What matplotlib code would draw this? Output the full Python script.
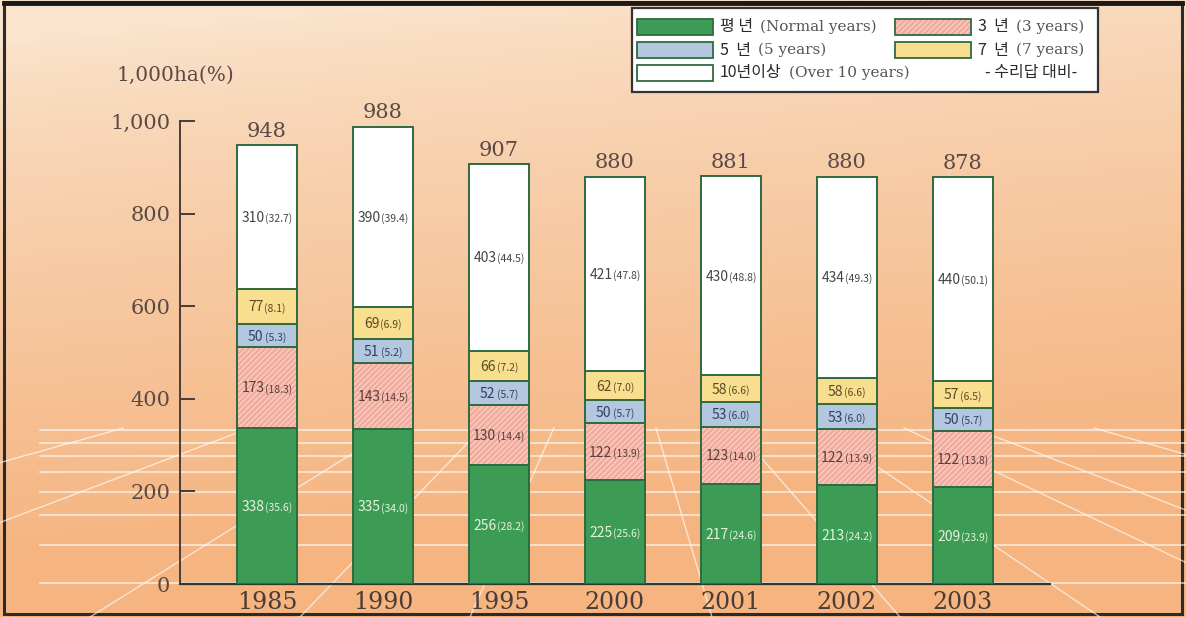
import matplotlib
matplotlib.use('Agg')
import matplotlib.pyplot as plt
import numpy as np
from matplotlib.patches import Rectangle
from matplotlib.transforms import offset_copy

# ---------------- data ----------------
years = ['1985', '1990', '1995', '2000', '2001', '2002', '2003']
totals = [948, 988, 907, 880, 881, 880, 878]
normal = [338, 335, 256, 225, 217, 213, 209]
normal_pct = [35.6, 34.0, 28.2, 25.6, 24.6, 24.2, 23.9]
yr3 = [173, 143, 130, 122, 123, 122, 122]
yr3_pct = [18.3, 14.5, 14.4, 13.9, 14.0, 13.9, 13.8]
yr5 = [50, 51, 52, 50, 53, 53, 50]
yr5_pct = [5.3, 5.2, 5.7, 5.7, 6.0, 6.0, 5.7]
yr7 = [77, 69, 66, 62, 58, 58, 57]
yr7_pct = [8.1, 6.9, 7.2, 7.0, 6.6, 6.6, 6.5]
yr10 = [310, 390, 403, 421, 430, 434, 440]
yr10_pct = [32.7, 39.4, 44.5, 47.8, 48.8, 49.3, 50.1]
yticks = [0, 200, 400, 600, 800, 1000]
ytick_labels = ['0', '200', '400', '600', '800', '1,000']
unit_label = '1,000ha(%)'
legend_ko = ['평 년', '3  년', '5  년', '7  년', '10년이상']
legend_en = ['(Normal years)', '(3 years)', '(5 years)', '(7 years)', '(Over 10 years)']
legend_note = '- 수리답 대비-'

# ---------------- style ----------------
W, H = 1186, 617
C_GREEN = '#3c9c55'
C_PINK = '#f1aa9c'
C_PINK_HATCH = '#f9cfc4'
C_BLUE = '#b3c8df'
C_YELLOW = '#f8df8f'
C_WHITE = '#ffffff'
C_EDGE = '#2f6a40'
C_TEXT = '#5a4945'
SERIF = 'DejaVu Serif'
SANS = ['Noto Sans CJK KR', 'DejaVu Sans']
plt.rcParams['hatch.linewidth'] = 1.0

fig = plt.figure(figsize=(W / 100, H / 100), dpi=100)

# background gradient + decorative perspective grid
bg = fig.add_axes([0, 0, 1, 1], zorder=0)
yy, xx = np.mgrid[0:H, 0:W]
t = np.clip(1.15 * (yy / H) + 0.2 * (xx / W) - 0.08, 0, 1) ** 0.75
top = np.array([250, 228, 205]) / 255
bot = np.array([245, 180, 128]) / 255
img = top[None, None, :] * (1 - t[..., None]) + bot[None, None, :] * t[..., None]
bg.imshow(img, extent=[0, W, H, 0], aspect='auto')
bg.set_xlim(0, W)
bg.set_ylim(H, 0)
bg.axis('off')
for gy in [430, 443, 456, 472, 492, 515, 545, 583]:
    bg.plot([40, W], [gy, gy], color='white', lw=1.1, alpha=0.75)
vpx, vpy = 615, 290
for bx in [-1300, -900, -550, -250, 90, 300, 470, 712, 900, 1100, 1300, 1463, 1750, 2200]:
    s = (bx - vpx) / (H - vpy)
    y0 = 428
    bg.plot([vpx + s * (y0 - vpy), bx], [y0, H], color='white', lw=1.0, alpha=0.65)
bg.add_patch(Rectangle((4, 2), W - 8, H - 5, fill=False, ec='#2b2b2b', lw=2.2))
bg.plot([4, W - 4], [2.5, 2.5], color='#1a1a1a', lw=3.5)

# main axes (pixel geometry of reference)
ax_l, ax_r, ax_b, ax_t = 180, 1050, 584, 121
ax = fig.add_axes([ax_l / W, 1 - ax_b / H, (ax_r - ax_l) / W, (ax_b - ax_t) / H], zorder=2)
ax.patch.set_alpha(0)
x = np.arange(len(years))
ax.set_xlim(-0.75, 6.75)
ax.set_ylim(0, 1000)
bw = 0.52

series = [
    (normal, normal_pct, C_GREEN, '#e4f3dc'),
    (yr3, yr3_pct, C_PINK, '#5a3f3c'),
    (yr5, yr5_pct, C_BLUE, '#2f3f66'),
    (yr7, yr7_pct, C_YELLOW, '#5a4a22'),
    (yr10, yr10_pct, C_WHITE, '#454545'),
]
bottom = np.zeros(len(years))
label_pairs = []
for vals, pcts, col, tcol in series:
    vals = np.array(vals, dtype=float)
    if col == C_PINK:
        ax.bar(x, vals, bw, bottom=bottom, color=col, edgecolor=C_PINK_HATCH,
               hatch='//////', linewidth=0, zorder=2)
        ax.bar(x, vals, bw, bottom=bottom, fill=False, edgecolor=C_EDGE,
               linewidth=1.4, zorder=3)
    else:
        ax.bar(x, vals, bw, bottom=bottom, color=col, edgecolor=C_EDGE,
               linewidth=1.4, zorder=3)
    for xi, b, v, p in zip(x, bottom, vals, pcts):
        t1 = ax.text(xi, b + v / 2, f'{int(v)}', fontsize=10, family=SANS,
                     color=tcol, ha='left', va='baseline', zorder=5)
        t2 = ax.text(xi, b + v / 2, f'({p:.1f})', fontsize=7.5, family=SANS,
                     color=tcol, ha='left', va='baseline', zorder=5)
        label_pairs.append((t1, t2, xi, b + v / 2))
    bottom = bottom + vals

for xi, tot in zip(x, totals):
    ax.annotate(f'{tot}', (xi, tot), xytext=(0, 3), textcoords='offset points',
                ha='center', va='bottom', fontsize=15, family=SERIF, color=C_TEXT,
                annotation_clip=False)

# axes styling
for sp in ['top', 'right']:
    ax.spines[sp].set_visible(False)
ax.spines['left'].set_color('#4a3c38')
ax.spines['left'].set_linewidth(1.4)
ax.spines['bottom'].set_color('#2b3a30')
ax.spines['bottom'].set_linewidth(1.6)
ax.set_yticks(yticks)
ax.set_yticklabels(ytick_labels, family=SERIF, fontsize=15, color=C_TEXT)
ax.tick_params(axis='y', direction='in', length=11, width=1.4, color='#4a3c38', pad=7)
ax.set_xticks(x)
ax.set_xticklabels(years, family=SERIF, fontsize=17, color='#4a3c38')
ax.tick_params(axis='x', length=0, pad=5)
fig.text(175 / W, 1 - 75 / H, unit_label, family=SERIF, fontsize=14.5,
         color=C_TEXT, ha='center', va='center')

# ---------------- legend (manual) ----------------
def fx(px):
    return px / W

def fy(py):
    return 1 - py / H

fig.patches.append(Rectangle((fx(632), fy(92)), fx(1098) - fx(632), (92 - 8) / H,
                             transform=fig.transFigure, fc='white', ec='#333333',
                             lw=1.6, zorder=10))
leg_items = [
    (0, 0, C_GREEN, None), (1, 0, C_PINK, '//////'),
    (0, 1, C_BLUE, None), (1, 1, C_YELLOW, None),
    (0, 2, C_WHITE, None),
]
col_x = [637, 895]
text_x = [720, 978]
row_y = [27, 50, 73]
leg_texts = []
for idx, (ci, ri, colr, hatch) in enumerate(leg_items):
    px0 = col_x[ci]
    py = row_y[ri]
    if hatch:
        fig.patches.append(Rectangle((fx(px0), fy(py + 8)), 76 / W, 16 / H,
                                     transform=fig.transFigure, fc=colr,
                                     ec=C_PINK_HATCH, hatch=hatch, lw=0, zorder=11))
        fig.patches.append(Rectangle((fx(px0), fy(py + 8)), 76 / W, 16 / H,
                                     transform=fig.transFigure, fill=False,
                                     ec=C_EDGE, lw=1.3, zorder=12))
    else:
        fig.patches.append(Rectangle((fx(px0), fy(py + 8)), 76 / W, 16 / H,
                                     transform=fig.transFigure, fc=colr, ec=C_EDGE,
                                     lw=1.3, zorder=11))
    tk = fig.text(fx(text_x[ci]), fy(py), legend_ko[idx], family=SANS, fontsize=11.5,
                  fontweight='medium', color='#2a2a2a', ha='left', va='center', zorder=12)
    te = fig.text(fx(text_x[ci]), fy(py), legend_en[idx], family=SERIF, fontsize=11,
                  color='#555555', ha='left', va='center', zorder=12)
    leg_texts.append((tk, te, text_x[ci], py))
fig.text(fx(985), fy(row_y[2]), legend_note, family=SANS, fontsize=11.5,
         fontweight='medium', color='#2a2a2a', ha='left', va='center', zorder=12)

# ---------------- position composite labels ----------------
fig.canvas.draw()
r = fig.canvas.get_renderer()
for t1, t2, xi, yc in label_pairs:
    w1 = t1.get_window_extent(r).width
    w2 = t2.get_window_extent(r).width
    tot = w1 + w2 + 1
    t1.set_transform(offset_copy(ax.transData, fig=fig, x=-tot / 2, y=-5, units='dots'))
    t2.set_transform(offset_copy(ax.transData, fig=fig, x=-tot / 2 + w1 + 1, y=-5, units='dots'))
for tk, te, tx, py in leg_texts:
    wk = tk.get_window_extent(r).width
    te.set_position((fx(tx + wk + 7), fy(py)))

fig.savefig('out.png', dpi=100)
